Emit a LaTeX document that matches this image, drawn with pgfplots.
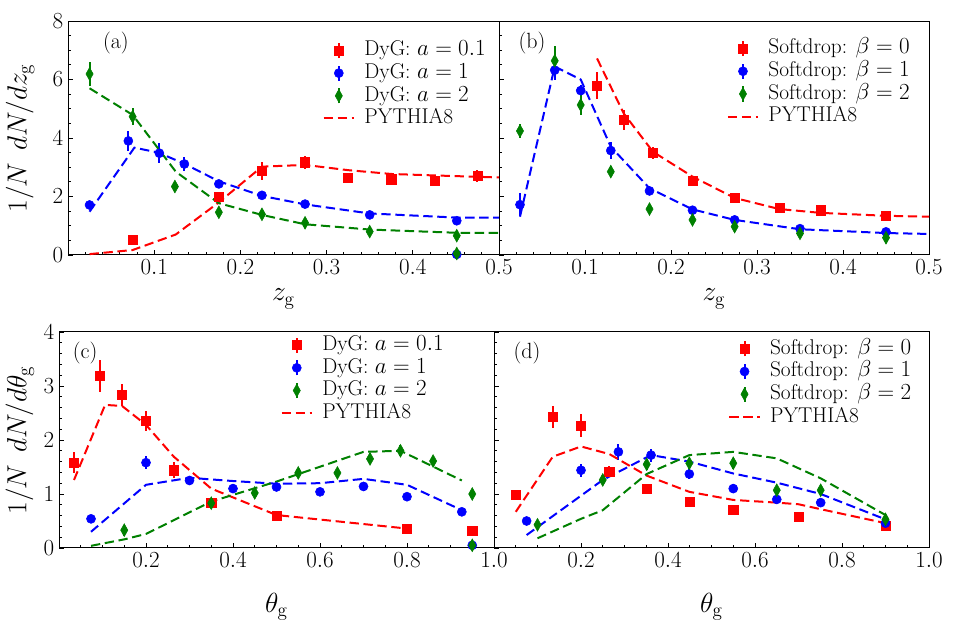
\documentclass[border=0pt]{standalone}
\usepackage{pgfplots}
\pgfplotsset{compat=1.18}
\definecolor{myred}{RGB}{255,0,0}
\definecolor{myblue}{RGB}{0,0,255}
\definecolor{mygreen}{RGB}{0,128,0}
\tikzset{plab/.style={font=\fontsize{16.5}{16.5}\selectfont}}
\pgfplotsset{
  common/.style={
    anchor=south west, scale only axis, clip=false,
    axis line style={line width=0.75pt},
    tick align=inside, xtick pos=left, ytick pos=left,
    major tick length=3.75pt, minor tick length=2pt,
    every tick/.style={black, line width=0.6pt},
    tick label style={font=\fontsize{17.5}{17.5}\selectfont},
    x tick label style={/pgf/number format/.cd, fixed, fixed zerofill, precision=1, /tikz/.cd},
    y tick label style={/pgf/number format/.cd, fixed, precision=0, /tikz/.cd},
    label style={font=\fontsize{20}{22}\selectfont},
    y label style={font=\fontsize{22}{24}\selectfont},
    legend cell align=left,
    legend style={draw=none, fill=none, font=\fontsize{16}{18}\selectfont,
      nodes={inner sep=1pt, text height=11.5pt, text depth=3.5pt}, row sep=0pt,
      /tikz/every odd column/.append style={column sep=6pt},
      anchor=north east},
  },
  dat/.style={only marks, error bars/.cd, y dir=both, y explicit, error mark=none,
     error bar style={line width=1.5pt, solid}, /pgfplots/.cd},
  barleg/.style={legend image code/.code={
     \draw[##1, mark=none, solid, line width=1.5pt] (0.4cm,-0.2cm) -- (0.4cm,0.2cm);
     \draw[##1, only marks] plot coordinates {(0.4cm,0cm)};}},
  redsq/.style={dat, barleg, color=myred, mark=square*, mark size=3.4pt, mark options={solid}},
  bluec/.style={dat, barleg, color=myblue, mark=*, mark size=3.4pt, mark options={solid}},
  greend/.style={dat, barleg, color=mygreen, mark=diamond*, mark size=4.8pt, mark options={solid, xscale=0.75}},
  pyth/.style={no marks, line width=1.5pt, dash pattern=on 7pt off 3.5pt,
     legend image code/.code={\draw[##1] (0cm,0cm) -- (0.8cm,0cm);}},
}
\begin{document}
\begin{tikzpicture}
\path[use as bounding box] (0,0) rectangle (719.25pt,472.5pt);

% ---------------- (a)
\begin{axis}[common, at={(51pt,281.25pt)}, width=323.25pt, height=175.5pt,
  xmin=0, xmax=0.5, ymin=0, ymax=8,
  xtick={0.1,0.2,0.3,0.4,0.5},
  minor xtick={0.02,0.04,0.06,0.08,0.12,0.14,0.16,0.18,0.22,0.24,0.26,0.28,0.32,0.34,0.36,0.38,0.42,0.44,0.46,0.48},
  ytick={0,2,4,6,8}, minor ytick={0.5,1,1.5,2.5,3,3.5,4.5,5,5.5,6.5,7,7.5},
  xlabel={$z_{\mathrm{g}}$}, ylabel={$1/N\;\,dN/dz_{\mathrm{g}}$},
  xlabel style={at={(axis description cs:0.5,-0.188)}, anchor=center},
  ylabel style={at={(axis description cs:-0.111,0.5)}, anchor=center},
  legend style={at={(axis description cs:0.982,0.935)}},
]
\addplot[redsq] table[x=x, y=y, y error=e, row sep=\\] {
x y e\\ 0.075 0.51 0.08\\ 0.175 2.00 0.12\\ 0.225 2.88 0.30\\ 0.275 3.17 0.22\\
0.325 2.64 0.12\\ 0.375 2.59 0.12\\ 0.425 2.54 0.10\\ 0.475 2.70 0.20\\};
\addlegendentry{DyG: $a=0.1$}
\addplot[bluec] table[x=x, y=y, y error=e, row sep=\\] {
x y e\\ 0.025 1.71 0.15\\ 0.070 3.90 0.35\\ 0.106 3.48 0.35\\ 0.135 3.11 0.25\\
0.175 2.43 0.12\\ 0.225 2.04 0.10\\ 0.275 1.74 0.10\\ 0.350 1.37 0.08\\ 0.451 1.17 0.08\\ 0.451 0.02 0.02\\};
\addlegendentry{DyG: $a=1$}
\addplot[greend] table[x=x, y=y, y error=e, row sep=\\] {
x y e\\ 0.025 6.19 0.40\\ 0.075 4.73 0.30\\ 0.124 2.34 0.15\\ 0.175 1.46 0.15\\
0.225 1.39 0.12\\ 0.275 1.10 0.10\\ 0.350 0.80 0.10\\ 0.451 0.66 0.10\\ 0.451 0.05 0.05\\};
\addlegendentry{DyG: $a=2$}
\addplot[pyth, myred] coordinates {(0.025,0.03) (0.075,0.17) (0.125,0.70) (0.175,1.80) (0.225,3.02) (0.275,3.08) (0.325,2.90) (0.375,2.77) (0.425,2.72) (0.5,2.65)};
\addlegendentry{PYTHIA8}
\addplot[pyth, myblue, forget plot] coordinates {(0.025,1.48) (0.077,3.67) (0.105,3.50) (0.135,3.12) (0.175,2.52) (0.225,2.02) (0.275,1.73) (0.35,1.42) (0.45,1.28) (0.5,1.28)};
\addplot[pyth, mygreen, forget plot] coordinates {(0.025,5.70) (0.075,4.79) (0.125,2.85) (0.175,1.77) (0.225,1.37) (0.275,1.05) (0.35,0.87) (0.45,0.76) (0.5,0.76)};
\node[plab] at (rel axis cs:0.111,0.906) {(a)};
\end{axis}

% ---------------- (b)
\begin{axis}[common, at={(374.25pt,281.25pt)}, width=322.5pt, height=175.5pt,
  xmin=0, xmax=0.5, ymin=0, ymax=8,
  xtick={0.1,0.2,0.3,0.4,0.5},
  minor xtick={0.02,0.04,0.06,0.08,0.12,0.14,0.16,0.18,0.22,0.24,0.26,0.28,0.32,0.34,0.36,0.38,0.42,0.44,0.46,0.48},
  ytick={0,2,4,6,8}, yticklabels={}, minor ytick={0.5,1,1.5,2.5,3,3.5,4.5,5,5.5,6.5,7,7.5},
  xlabel={$z_{\mathrm{g}}$},
  xlabel style={at={(axis description cs:0.5,-0.188)}, anchor=center},
  legend style={at={(axis description cs:0.968,0.943)}},
]
\addplot[redsq] table[x=x, y=y, y error=e, row sep=\\] {
x y e\\ 0.114 5.79 0.45\\ 0.145 4.62 0.35\\ 0.179 3.48 0.20\\ 0.225 2.55 0.12\\
0.274 1.95 0.12\\ 0.326 1.60 0.08\\ 0.374 1.53 0.08\\ 0.450 1.34 0.08\\};
\addlegendentry{Softdrop: $\beta=0$}
\addplot[bluec] table[x=x, y=y, y error=e, row sep=\\] {
x y e\\ 0.0244 1.72 0.40\\ 0.0648 6.32 0.35\\ 0.095 5.62 0.20\\ 0.130 3.57 0.30\\
0.175 2.19 0.10\\ 0.225 1.53 0.10\\ 0.274 1.20 0.08\\ 0.350 0.90 0.08\\ 0.450 0.79 0.08\\};
\addlegendentry{Softdrop: $\beta=1$}
\addplot[greend] table[x=x, y=y, y error=e, row sep=\\] {
x y e\\ 0.0244 4.24 0.25\\ 0.0648 6.64 0.50\\ 0.095 5.13 0.35\\ 0.130 2.85 0.20\\
0.175 1.57 0.12\\ 0.225 1.20 0.12\\ 0.274 0.97 0.10\\ 0.350 0.74 0.10\\ 0.450 0.59 0.10\\};
\addlegendentry{Softdrop: $\beta=2$}
\addplot[pyth, myred] coordinates {(0.114,6.72) (0.145,4.84) (0.179,3.53) (0.225,2.68) (0.274,1.95) (0.326,1.57) (0.374,1.44) (0.450,1.34) (0.5,1.31)};
\addlegendentry{PYTHIA8}
\addplot[pyth, myblue, forget plot] coordinates {(0.0244,1.31) (0.0648,6.44) (0.095,6.00) (0.130,3.70) (0.175,2.28) (0.225,1.56) (0.274,1.20) (0.350,0.88) (0.450,0.75) (0.5,0.72)};
\node[plab] at (rel axis cs:0.077,0.906) {(b)};
\end{axis}

% ---------------- (c)
\begin{axis}[common, at={(44.25pt,61.5pt)}, width=326.25pt, height=162pt,
  xmin=0, xmax=1, ymin=0, ymax=4,
  xtick={0.2,0.4,0.6,0.8,1.0},
  minor xtick={0.05,0.1,0.15,0.25,0.3,0.35,0.45,0.5,0.55,0.65,0.7,0.75,0.85,0.9,0.95},
  ytick={0,1,2,3,4}, minor ytick={0.2,0.4,0.6,0.8,1.2,1.4,1.6,1.8,2.2,2.4,2.6,2.8,3.2,3.4,3.6,3.8},
  xlabel={$\theta_{\mathrm{g}}$}, ylabel={$1/N\;\,dN/d\theta_{\mathrm{g}}$},
  xlabel style={at={(axis description cs:0.5,-0.273)}, anchor=center},
  ylabel style={at={(axis description cs:-0.09,0.5)}, anchor=center},
  legend style={at={(axis description cs:0.897,1.005)}},
]
\addplot[redsq] table[x=x, y=y, y error=e, row sep=\\] {
x y e\\ 0.0345 1.58 0.20\\ 0.094 3.19 0.30\\ 0.145 2.83 0.20\\ 0.199 2.35 0.18\\ 0.264 1.44 0.15\\
0.350 0.83 0.08\\ 0.500 0.60 0.05\\ 0.800 0.36 0.05\\ 0.950 0.32 0.05\\};
\addlegendentry{DyG: $a=0.1$}
\addplot[bluec] table[x=x, y=y, y error=e, row sep=\\] {
x y e\\ 0.0736 0.54 0.05\\ 0.200 1.58 0.12\\ 0.300 1.25 0.08\\ 0.400 1.10 0.08\\ 0.500 1.13 0.06\\
0.600 1.04 0.08\\ 0.700 1.14 0.08\\ 0.800 0.95 0.06\\ 0.926 0.67 0.05\\ 0.950 0.05 0.03\\};
\addlegendentry{DyG: $a=1$}
\addplot[greend] table[x=x, y=y, y error=e, row sep=\\] {
x y e\\ 0.150 0.33 0.10\\ 0.350 0.83 0.08\\ 0.450 1.02 0.08\\ 0.550 1.39 0.08\\ 0.640 1.39 0.08\\
0.715 1.65 0.10\\ 0.785 1.80 0.10\\ 0.860 1.61 0.08\\ 0.950 1.00 0.08\\ 0.950 0.05 0.06\\};
\addlegendentry{DyG: $a=2$}
\addplot[pyth, myred] coordinates {(0.0345,1.26) (0.106,2.65) (0.145,2.63) (0.2,2.28) (0.264,1.69) (0.35,1.10) (0.5,0.61) (0.8,0.36)};
\addlegendentry{PYTHIA8}
\addplot[pyth, myblue, forget plot] coordinates {(0.0736,0.30) (0.2,1.17) (0.3,1.30) (0.4,1.24) (0.5,1.19) (0.6,1.20) (0.7,1.28) (0.8,1.17) (0.926,0.70)};
\addplot[pyth, mygreen, forget plot] coordinates {(0.0736,0.04) (0.15,0.16) (0.2,0.26) (0.35,0.86) (0.5,1.23) (0.7,1.78) (0.785,1.80) (0.926,1.25)};
\node[plab] at (rel axis cs:0.06,0.903) {(c)};
\end{axis}

% ---------------- (d)
\begin{axis}[common, at={(370.5pt,61.5pt)}, width=326.25pt, height=162pt,
  xmin=0, xmax=1, ymin=0, ymax=4,
  xtick={0.2,0.4,0.6,0.8,1.0},
  minor xtick={0.05,0.1,0.15,0.25,0.3,0.35,0.45,0.5,0.55,0.65,0.7,0.75,0.85,0.9,0.95},
  ytick={0,1,2,3,4}, yticklabels={}, minor ytick={0.2,0.4,0.6,0.8,1.2,1.4,1.6,1.8,2.2,2.4,2.6,2.8,3.2,3.4,3.6,3.8},
  xlabel={$\theta_{\mathrm{g}}$},
  xlabel style={at={(axis description cs:0.5,-0.273)}, anchor=center},
  legend style={at={(axis description cs:0.972,0.988)}},
]
\addplot[redsq] table[x=x, y=y, y error=e, row sep=\\] {
x y e\\ 0.050 0.99 0.06\\ 0.135 2.43 0.20\\ 0.200 2.27 0.22\\ 0.265 1.42 0.10\\ 0.351 1.10 0.06\\
0.449 0.85 0.05\\ 0.550 0.71 0.05\\ 0.700 0.57 0.05\\ 0.900 0.41 0.05\\};
\addlegendentry{Softdrop: $\beta=0$}
\addplot[bluec] table[x=x, y=y, y error=e, row sep=\\] {
x y e\\ 0.075 0.50 0.05\\ 0.200 1.44 0.12\\ 0.286 1.78 0.15\\ 0.361 1.72 0.12\\ 0.449 1.37 0.10\\
0.550 1.10 0.08\\ 0.650 0.90 0.05\\ 0.751 0.84 0.05\\ 0.900 0.46 0.05\\};
\addlegendentry{Softdrop: $\beta=1$}
\addplot[greend] table[x=x, y=y, y error=e, row sep=\\] {
x y e\\ 0.100 0.43 0.06\\ 0.250 1.26 0.10\\ 0.351 1.55 0.10\\ 0.449 1.57 0.10\\ 0.550 1.57 0.10\\
0.650 1.07 0.08\\ 0.751 1.07 0.08\\ 0.900 0.53 0.06\\};
\addlegendentry{Softdrop: $\beta=2$}
\addplot[pyth, myred] coordinates {(0.05,0.67) (0.135,1.69) (0.2,1.88) (0.265,1.74) (0.351,1.34) (0.449,1.04) (0.55,0.89) (0.65,0.84) (0.7,0.81) (0.75,0.72) (0.9,0.46)};
\addlegendentry{PYTHIA8}
\addplot[pyth, myblue, forget plot] coordinates {(0.075,0.24) (0.25,1.26) (0.361,1.72) (0.449,1.60) (0.55,1.38) (0.65,1.21) (0.751,1.00) (0.9,0.53)};
\addplot[pyth, mygreen, forget plot] coordinates {(0.1,0.18) (0.2,0.54) (0.25,0.70) (0.351,1.37) (0.449,1.72) (0.55,1.78) (0.65,1.66) (0.751,1.29) (0.9,0.61)};
\node[plab] at (rel axis cs:0.076,0.903) {(d)};
\end{axis}
\end{tikzpicture}
\end{document}
